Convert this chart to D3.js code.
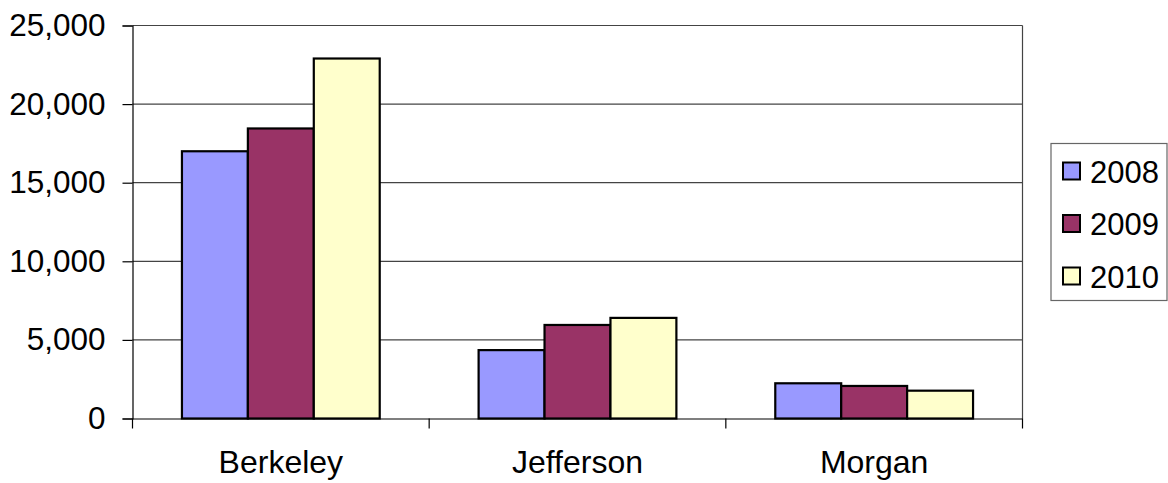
<!DOCTYPE html>
<html>
<head>
<meta charset="utf-8">
<script src="https://cdn.jsdelivr.net/npm/d3@7"></script>
<style>
	body { margin: 0; background: #fff; }
	text { font-family: Arial, "Liberation Sans", sans-serif; fill: #000; }
</style>
</head>
<body>
<div id="chart"></div>
<script>
var categories = ["Berkeley", "Jefferson", "Morgan"];
var years = ["2008", "2009", "2010"];
var values2008 = [17000, 4350, 2240];
var values2009 = [18450, 5950, 2070];
var values2010 = [22900, 6400, 1770];
var yTicks = [0, 5000, 10000, 15000, 20000, 25000];
var colors = ["#9999ff", "#993366", "#ffffcc"];

var series = [values2008, values2009, values2010];

var margins = {top: 25.5, bottom: 64.5, left: 132.5, right: 145.5};
var width = 1168 - margins.left - margins.right,
	height = 483 - margins.top - margins.bottom;

var svg = d3.select("#chart").append("svg")
	.attr("width", 1168)
	.attr("height", 483)
  .append("g")
	.attr("transform", "translate(" + margins.left + "," + margins.top + ")");

var x = d3.scaleBand().domain(categories).range([0, width]);
var inner = d3.scaleBand().domain(years).range([0, x.bandwidth()]).paddingOuter(0.75);
var y = d3.scaleLinear().domain([0, 25000]).range([height, 0]);

// gridlines
svg.selectAll(".grid")
	.data(yTicks.slice(1))
  .enter().append("line")
	.attr("x1", 0).attr("x2", width)
	.attr("y1", function(d) { return y(d); })
	.attr("y2", function(d) { return y(d); })
	.attr("stroke", "#444").attr("stroke-width", 1.2);

// right border of plot area
svg.append("line")
	.attr("x1", width).attr("x2", width)
	.attr("y1", 0).attr("y2", height)
	.attr("stroke", "#444").attr("stroke-width", 1.2);

// bars
var groups = svg.selectAll(".cat")
	.data(categories)
  .enter().append("g")
	.attr("transform", function(d) { return "translate(" + x(d) + ",0)"; });

groups.selectAll("rect")
	.data(function(d, i) {
		return years.map(function(yr, j) { return {year: yr, value: series[j][i], color: colors[j]}; });
	})
  .enter().append("rect")
	.attr("x", function(d) { return inner(d.year); })
	.attr("width", inner.bandwidth())
	.attr("y", function(d) { return y(d.value); })
	.attr("height", function(d) { return height - y(d.value); })
	.attr("fill", function(d) { return d.color; })
	.attr("stroke", "#000").attr("stroke-width", 2.2);

// y axis
var yAxis = svg.append("g")
	.call(d3.axisLeft(y).tickValues(yTicks).tickSize(10).tickPadding(17)
		.tickFormat(d3.format(",")));
yAxis.select(".domain").attr("stroke", "#000").attr("stroke-width", 1.2);
yAxis.selectAll(".tick line").attr("stroke", "#000").attr("stroke-width", 1.2);
yAxis.selectAll("text").style("font-size", "31.5px").attr("fill", "#000");

// x axis with ticks at category boundaries
var xAxis = svg.append("g")
	.attr("transform", "translate(0," + height + ")")
	.call(d3.axisBottom(x).tickSize(0).tickPadding(32));
xAxis.select(".domain").attr("stroke", "#000").attr("stroke-width", 1.2);
xAxis.selectAll("text").style("font-size", "32px").attr("fill", "#000");
xAxis.selectAll(".sep")
	.data(d3.range(categories.length + 1))
  .enter().append("line")
	.attr("x1", function(i) { return i * x.step(); })
	.attr("x2", function(i) { return i * x.step(); })
	.attr("y1", 0).attr("y2", 10)
	.attr("stroke", "#000").attr("stroke-width", 1.2);

// legend
var legend = d3.select("svg").append("g")
	.attr("transform", "translate(1051,143.5)");
legend.append("rect")
	.attr("width", 116).attr("height", 157)
	.attr("fill", "#fff").attr("stroke", "#666").attr("stroke-width", 1.2);

var items = legend.selectAll(".item")
	.data(years)
  .enter().append("g")
	.attr("transform", function(d, i) { return "translate(0," + (28 + i * 52.5) + ")"; });
items.append("rect")
	.attr("x", 12).attr("y", -9)
	.attr("width", 17).attr("height", 17)
	.attr("fill", function(d, i) { return colors[i]; })
	.attr("stroke", "#000").attr("stroke-width", 2);
items.append("text")
	.attr("x", 39).attr("dy", "0.36em")
	.style("font-size", "31px")
	.text(function(d) { return d; });
</script>
</body>
</html>
